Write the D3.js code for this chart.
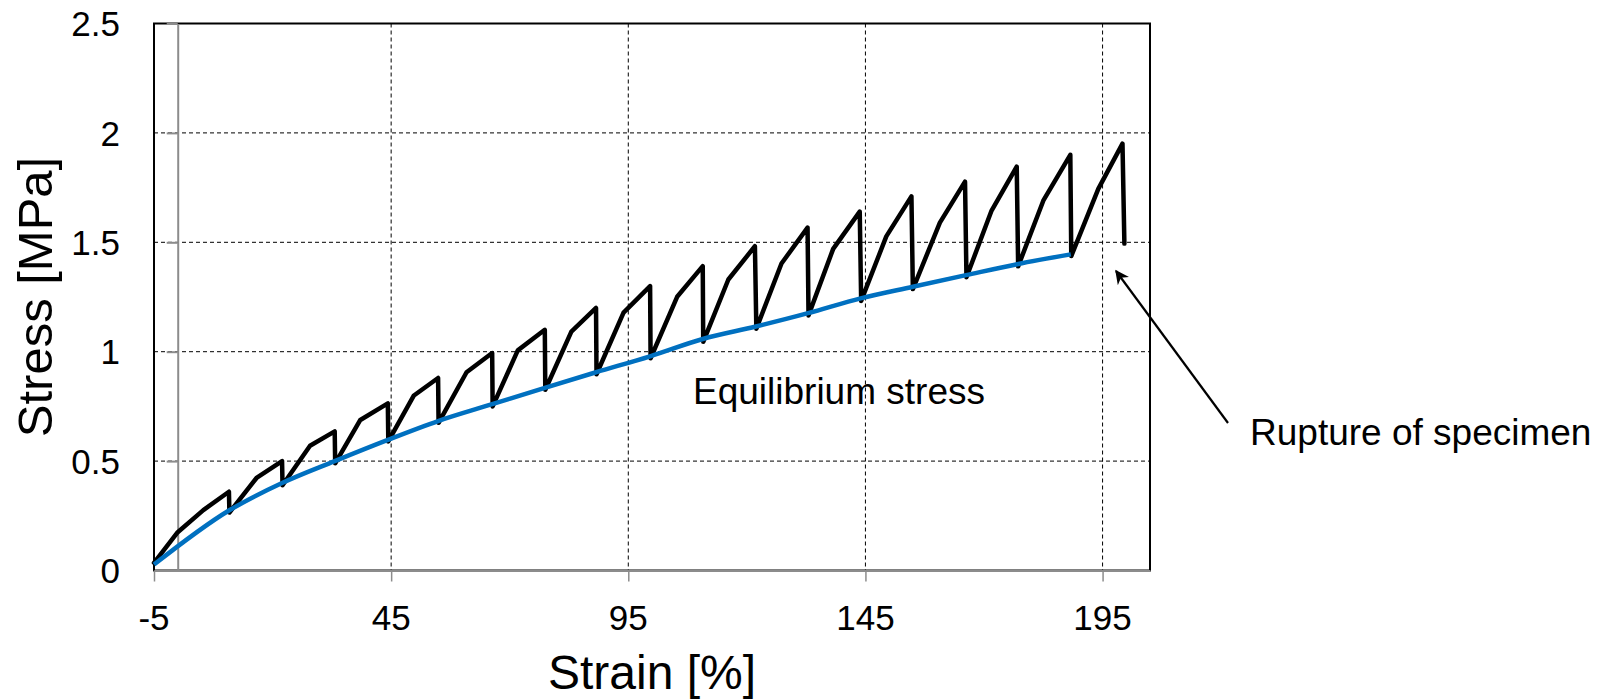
<!DOCTYPE html>
<html>
<head>
<meta charset="utf-8">
<script src="https://cdn.jsdelivr.net/npm/d3@7"></script>
<style>
  html, body { margin: 0; padding: 0; background: #fff; }
  svg { display: block; font-family: "Liberation Sans", Arial, sans-serif; }
</style>
</head>
<body>
<svg id="chart" width="1610" height="699"></svg>
<script>
// Stepwise relaxation test: measured stress (sawtooth) and equilibrium stress
const strainMeasured = [-5, 0, 5.4, 10.8, 10.9, 16.7, 22.0, 22.1, 27.9, 33.1, 33.2, 38.5, 44.3, 44.4,
  49.8, 54.9, 55.0, 60.9, 66.3, 66.4, 71.7, 77.4, 77.5, 83.0, 88.2, 88.3, 94.0, 99.6, 99.7,
  105.3, 110.7, 110.8, 116.1, 121.7, 122.0, 127.3, 132.8, 133.0, 138.2, 143.8, 144.1,
  149.4, 154.7, 155.0, 160.7, 166.0, 166.3, 171.6, 176.9, 177.2, 182.5, 188.2, 188.4,
  194.1, 199.2, 199.6];
const stressMeasured = [0.035, 0.175, 0.276, 0.36, 0.265, 0.425, 0.50, 0.39, 0.57, 0.636, 0.49, 0.688, 0.764, 0.59,
  0.80, 0.88, 0.675, 0.906, 0.994, 0.75, 1.006, 1.10, 0.826, 1.092, 1.20, 0.897, 1.179, 1.30, 0.97,
  1.251, 1.391, 1.045, 1.33, 1.482, 1.105, 1.403, 1.567, 1.166, 1.47, 1.64, 1.232,
  1.527, 1.71, 1.286, 1.59, 1.777, 1.34, 1.645, 1.846, 1.39, 1.69, 1.90, 1.437,
  1.744, 1.951, 1.494];

const strainEquilibrium = [-5, 10.8, 22.0, 33.1, 44.3, 54.9, 66.3, 77.4, 88.2, 99.6, 110.7, 121.9,
  132.9, 144.0, 155.0, 166.2, 177.0, 188.3];
const stressEquilibrium = [0.027, 0.274, 0.40, 0.50, 0.597, 0.683, 0.76, 0.835, 0.906, 0.979, 1.058, 1.115,
  1.176, 1.244, 1.297, 1.35, 1.40, 1.445];

const xTicks = [-5, 45, 95, 145, 195];
const yTicks = [0, 0.5, 1, 1.5, 2, 2.5];

const svg = d3.select("#chart");
const plotLeft = 154, plotRight = 1150, plotTop = 23.5, plotBottom = 570.5;

const x = d3.scaleLinear().domain([-5, 205]).range([plotLeft, plotRight]);
const y = d3.scaleLinear().domain([0, 2.5]).range([plotBottom, plotTop]);

// dashed grid
svg.append("g").selectAll("line").data(yTicks.filter(v => v > 0 && v < 2.5)).join("line")
  .attr("x1", plotLeft).attr("x2", plotRight)
  .attr("y1", d => y(d)).attr("y2", d => y(d))
  .attr("stroke", "#000").attr("stroke-width", 1).attr("stroke-dasharray", "4,3");
svg.append("g").selectAll("line").data(xTicks.filter(v => v > -5)).join("line")
  .attr("x1", d => x(d)).attr("x2", d => x(d))
  .attr("y1", plotTop).attr("y2", plotBottom)
  .attr("stroke", "#000").attr("stroke-width", 1).attr("stroke-dasharray", "4,3");

// plot frame
svg.append("rect")
  .attr("x", plotLeft).attr("y", plotTop)
  .attr("width", plotRight - plotLeft).attr("height", plotBottom - plotTop)
  .attr("fill", "none").attr("stroke", "#000").attr("stroke-width", 2);

// gray value axis crossing at strain 0
const yAxis = d3.axisLeft(y).tickValues(yTicks).tickSize(11).tickSizeOuter(0).tickFormat("");
const gy = svg.append("g").attr("transform", `translate(${x(0)},0)`).call(yAxis);
gy.select(".domain").attr("stroke", "#8c8c8c").attr("stroke-width", 2);
gy.selectAll(".tick line").attr("stroke", "#8c8c8c").attr("stroke-width", 2);

// gray strain axis along the bottom
const xAxis = d3.axisBottom(x).tickValues(xTicks).tickSize(11).tickSizeOuter(0).tickFormat("");
const gx = svg.append("g").attr("transform", `translate(0,${plotBottom})`).call(xAxis);
gx.select(".domain").attr("stroke", "#8c8c8c").attr("stroke-width", 2);
gx.selectAll(".tick line").attr("stroke", "#8c8c8c").attr("stroke-width", 1.5);

// tick labels
svg.append("g").selectAll("text").data(yTicks).join("text")
  .attr("x", 120).attr("y", d => y(d)).attr("dy", "0.36em")
  .attr("text-anchor", "end").attr("font-size", 35).attr("fill", "#000")
  .text(d => d3.format("~g")(d));
svg.append("g").selectAll("text").data(xTicks).join("text")
  .attr("x", d => x(d)).attr("y", 630)
  .attr("text-anchor", "middle").attr("font-size", 35).attr("fill", "#000")
  .text(d => d);

// axis titles
svg.append("text")
  .attr("transform", `translate(52,${(plotTop + plotBottom) / 2}) rotate(-90)`)
  .attr("text-anchor", "middle").attr("font-size", 49).attr("fill", "#000")
  .text("Stress [MPa]");
svg.append("text")
  .attr("x", (plotLeft + plotRight) / 2).attr("y", 689)
  .attr("text-anchor", "middle").attr("font-size", 48).attr("fill", "#000")
  .text("Strain [%]");

// measured stress
const measured = strainMeasured.map((s, i) => [s, stressMeasured[i]]);
svg.append("path").datum(measured)
  .attr("d", d3.line().x(d => x(d[0])).y(d => y(d[1])))
  .attr("fill", "none").attr("stroke", "#000").attr("stroke-width", 4.5)
  .attr("stroke-linejoin", "round").attr("stroke-linecap", "round");

// equilibrium stress
const equilibrium = strainEquilibrium.map((s, i) => [s, stressEquilibrium[i]]);
svg.append("path").datum(equilibrium)
  .attr("d", d3.line().curve(d3.curveMonotoneX).x(d => x(d[0])).y(d => y(d[1])))
  .attr("fill", "none").attr("stroke", "#0070c0").attr("stroke-width", 4.5)
  .attr("stroke-linejoin", "round");

// annotations
svg.append("text").attr("x", 693).attr("y", 404)
  .attr("font-size", 37).attr("fill", "#000").text("Equilibrium stress");

svg.append("defs").append("marker")
  .attr("id", "arrowHead").attr("viewBox", "0 0 10 10").attr("refX", 9).attr("refY", 5)
  .attr("markerUnits", "userSpaceOnUse").attr("markerWidth", 16).attr("markerHeight", 14)
  .attr("orient", "auto")
  .append("path").attr("d", "M0,0 L10,5 L0,10 L3,5 Z").attr("fill", "#000");

svg.append("line")
  .attr("x1", 1228).attr("y1", 423).attr("x2", 1116).attr("y2", 271)
  .attr("stroke", "#000").attr("stroke-width", 2.2)
  .attr("marker-end", "url(#arrowHead)");

svg.append("text").attr("x", 1250).attr("y", 445)
  .attr("font-size", 37).attr("fill", "#000").text("Rupture of specimen");
</script>
</body>
</html>
